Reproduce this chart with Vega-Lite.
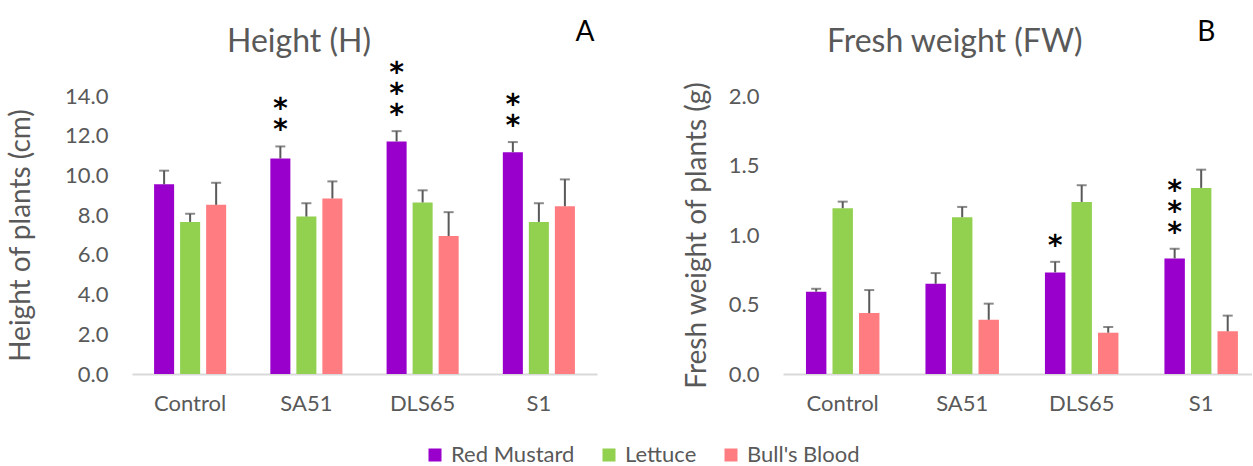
{
  "$schema": "https://vega.github.io/schema/vega-lite/v6.json",
  "background": "white",
  "padding": {"left": 7, "top": 19, "right": 0, "bottom": 0},
  "spacing": 86,
  "config": {
    "view": {"stroke": null},
    "font": "Lato",
    "axis": {"labelFont": "Lato", "labelColor": "#595959", "titleColor": "#595959", "titleFont": "Lato", "titleFontWeight": "normal", "ticks": false, "grid": false, "labelFontSize": 22, "titleFontSize": 28, "labelOverlap": false},
    "axisY": {"domain": false, "labelPadding": 24},
    "axisX": {"domain": true, "domainColor": "#D9D9D9", "domainWidth": 2, "labelPadding": 19},
    "legend": {"orient": "none", "legendX": 292, "legendY": 348, "direction": "horizontal", "columnPadding": 23, "symbolType": "square", "symbolSize": 169, "labelFontSize": 22, "labelFont": "Lato", "labelColor": "#595959", "symbolStrokeWidth": 0, "labelOffset": 5, "padding": 0}
  },
  "datasets": {
    "height": [
      {"treatment": "Control", "variety": "Red Mustard", "mean": 9.55, "hi": 10.24, "sig": ""},
      {"treatment": "Control", "variety": "Lettuce", "mean": 7.66, "hi": 8.07, "sig": ""},
      {"treatment": "Control", "variety": "Bull's Blood", "mean": 8.52, "hi": 9.63, "sig": ""},
      {"treatment": "SA51", "variety": "Red Mustard", "mean": 10.85, "hi": 11.46, "sig": "*\n*"},
      {"treatment": "SA51", "variety": "Lettuce", "mean": 7.93, "hi": 8.6, "sig": ""},
      {"treatment": "SA51", "variety": "Bull's Blood", "mean": 8.84, "hi": 9.7, "sig": ""},
      {"treatment": "DLS65", "variety": "Red Mustard", "mean": 11.71, "hi": 12.23, "sig": "*\n*\n*"},
      {"treatment": "DLS65", "variety": "Lettuce", "mean": 8.64, "hi": 9.25, "sig": ""},
      {"treatment": "DLS65", "variety": "Bull's Blood", "mean": 6.95, "hi": 8.15, "sig": ""},
      {"treatment": "S1", "variety": "Red Mustard", "mean": 11.17, "hi": 11.68, "sig": "*\n*"},
      {"treatment": "S1", "variety": "Lettuce", "mean": 7.66, "hi": 8.6, "sig": ""},
      {"treatment": "S1", "variety": "Bull's Blood", "mean": 8.45, "hi": 9.8, "sig": ""}
    ],
    "fw": [
      {"treatment": "Control", "variety": "Red Mustard", "mean": 0.592, "hi": 0.613, "sig": ""},
      {"treatment": "Control", "variety": "Lettuce", "mean": 1.193, "hi": 1.24, "sig": ""},
      {"treatment": "Control", "variety": "Bull's Blood", "mean": 0.438, "hi": 0.604, "sig": ""},
      {"treatment": "SA51", "variety": "Red Mustard", "mean": 0.649, "hi": 0.726, "sig": ""},
      {"treatment": "SA51", "variety": "Lettuce", "mean": 1.128, "hi": 1.202, "sig": ""},
      {"treatment": "SA51", "variety": "Bull's Blood", "mean": 0.39, "hi": 0.506, "sig": ""},
      {"treatment": "DLS65", "variety": "Red Mustard", "mean": 0.731, "hi": 0.807, "sig": "*"},
      {"treatment": "DLS65", "variety": "Lettuce", "mean": 1.238, "hi": 1.358, "sig": ""},
      {"treatment": "DLS65", "variety": "Bull's Blood", "mean": 0.297, "hi": 0.338, "sig": ""},
      {"treatment": "S1", "variety": "Red Mustard", "mean": 0.831, "hi": 0.901, "sig": "*\n*\n*"},
      {"treatment": "S1", "variety": "Lettuce", "mean": 1.339, "hi": 1.47, "sig": ""},
      {"treatment": "S1", "variety": "Bull's Blood", "mean": 0.307, "hi": 0.42, "sig": ""}
    ],
    "labA": [{"lab": "A"}],
    "labB": [{"lab": "B"}]
  },
  "resolve": {"scale": {"x": "independent", "y": "independent", "color": "shared", "xOffset": "independent"}},
  "hconcat": [
    {
      "width": 465,
      "height": 278,
      "title": {"text": "Height (H)", "anchor": "start", "frame": "group", "dx": 95, "offset": -65, "baseline": "alphabetic", "fontSize": 32, "color": "#595959", "fontWeight": "normal", "font": "Lato"},
      "layer": [
        {
          "data": {"name": "height"},
          "mark": {"type": "bar"},
          "encoding": {
            "x": {"field": "treatment", "type": "nominal", "sort": ["Control", "SA51", "DLS65", "S1"], "scale": {"paddingInner": 0.38, "paddingOuter": 0.19}, "axis": {"title": null, "labelAngle": 0}},
            "xOffset": {"field": "variety", "type": "nominal", "sort": ["Red Mustard", "Lettuce", "Bull's Blood"], "scale": {"paddingInner": 0.23, "paddingOuter": 0}},
            "y": {"field": "mean", "type": "quantitative", "scale": {"domain": [0, 14], "nice": false}, "axis": {"title": "Height of plants (cm)", "tickCount": 7, "format": ".1f", "titlePadding": 29, "labelOverlap": false}},
            "color": {"field": "variety", "type": "nominal", "sort": ["Red Mustard", "Lettuce", "Bull's Blood"], "scale": {"domain": ["Red Mustard", "Lettuce", "Bull's Blood"], "range": ["#9900CC", "#92D050", "#FF7C80"]}, "legend": {"title": null}}
          }
        },
        {
          "data": {"name": "height"},
          "mark": {"type": "rule", "color": "#595959", "strokeWidth": 2},
          "encoding": {
            "x": {"field": "treatment", "type": "nominal", "sort": ["Control", "SA51", "DLS65", "S1"]},
            "xOffset": {"field": "variety", "type": "nominal", "sort": ["Red Mustard", "Lettuce", "Bull's Blood"]},
            "y": {"field": "mean", "type": "quantitative"},
            "y2": {"field": "hi"}
          }
        },
        {
          "data": {"name": "height"},
          "mark": {"type": "tick", "color": "#595959", "thickness": 2, "size": 10},
          "encoding": {
            "x": {"field": "treatment", "type": "nominal", "sort": ["Control", "SA51", "DLS65", "S1"]},
            "xOffset": {"field": "variety", "type": "nominal", "sort": ["Red Mustard", "Lettuce", "Bull's Blood"]},
            "y": {"field": "hi", "type": "quantitative"}
          }
        },
        {
          "data": {"name": "height"},
          "mark": {"type": "text", "font": "DejaVu Sans", "fontWeight": "bold", "fontSize": 28, "baseline": "top", "angle": 180, "dy": 14, "lineBreak": "\n", "lineHeight": 21, "color": "black"},
          "encoding": {
            "x": {"field": "treatment", "type": "nominal", "sort": ["Control", "SA51", "DLS65", "S1"]},
            "xOffset": {"field": "variety", "type": "nominal", "sort": ["Red Mustard", "Lettuce", "Bull's Blood"]},
            "y": {"field": "hi", "type": "quantitative"},
            "text": {"field": "sig"}
          }
        },
        {
          "data": {"name": "labA"},
          "mark": {"type": "text", "font": "Lato", "fontSize": 28, "color": "black", "dx": 46, "dy": -63, "baseline": "middle"},
          "encoding": {
            "x": {"datum": "S1"},
            "y": {"datum": 14},
            "text": {"field": "lab"}
          }
        }
      ]
    },
    {
      "width": 469,
      "height": 278,
      "title": {"text": "Fresh weight (FW)", "anchor": "start", "frame": "group", "dx": 44, "offset": -65, "baseline": "alphabetic", "fontSize": 32, "color": "#595959", "fontWeight": "normal", "font": "Lato"},
      "layer": [
        {
          "data": {"name": "fw"},
          "mark": {"type": "bar"},
          "encoding": {
            "x": {"field": "treatment", "type": "nominal", "sort": ["Control", "SA51", "DLS65", "S1"], "scale": {"paddingInner": 0.385, "paddingOuter": 0.155, "align": 0.62}, "axis": {"title": null, "labelAngle": 0}},
            "xOffset": {"field": "variety", "type": "nominal", "sort": ["Red Mustard", "Lettuce", "Bull's Blood"], "scale": {"paddingInner": 0.23, "paddingOuter": 0}},
            "y": {"field": "mean", "type": "quantitative", "scale": {"domain": [0, 2], "nice": false}, "axis": {"title": "Fresh weight of plants (g)", "values": [0, 0.5, 1, 1.5, 2], "format": ".1f", "titlePadding": 17, "labelOverlap": false}},
            "color": {"field": "variety", "type": "nominal", "sort": ["Red Mustard", "Lettuce", "Bull's Blood"], "legend": {"title": null}}
          }
        },
        {
          "data": {"name": "fw"},
          "mark": {"type": "rule", "color": "#595959", "strokeWidth": 2},
          "encoding": {
            "x": {"field": "treatment", "type": "nominal", "sort": ["Control", "SA51", "DLS65", "S1"]},
            "xOffset": {"field": "variety", "type": "nominal", "sort": ["Red Mustard", "Lettuce", "Bull's Blood"]},
            "y": {"field": "mean", "type": "quantitative"},
            "y2": {"field": "hi"}
          }
        },
        {
          "data": {"name": "fw"},
          "mark": {"type": "tick", "color": "#595959", "thickness": 2, "size": 10},
          "encoding": {
            "x": {"field": "treatment", "type": "nominal", "sort": ["Control", "SA51", "DLS65", "S1"]},
            "xOffset": {"field": "variety", "type": "nominal", "sort": ["Red Mustard", "Lettuce", "Bull's Blood"]},
            "y": {"field": "hi", "type": "quantitative"}
          }
        },
        {
          "data": {"name": "fw"},
          "mark": {"type": "text", "font": "DejaVu Sans", "fontWeight": "bold", "fontSize": 28, "baseline": "top", "angle": 180, "dy": 14, "lineBreak": "\n", "lineHeight": 21, "color": "black"},
          "encoding": {
            "x": {"field": "treatment", "type": "nominal", "sort": ["Control", "SA51", "DLS65", "S1"]},
            "xOffset": {"field": "variety", "type": "nominal", "sort": ["Red Mustard", "Lettuce", "Bull's Blood"]},
            "y": {"field": "hi", "type": "quantitative"},
            "text": {"field": "sig"}
          }
        },
        {
          "data": {"name": "labB"},
          "mark": {"type": "text", "font": "Lato", "fontSize": 28, "color": "black", "dx": 5, "dy": -63, "baseline": "middle"},
          "encoding": {
            "x": {"datum": "S1"},
            "y": {"datum": 2},
            "text": {"field": "lab"}
          }
        }
      ]
    }
  ]
}
